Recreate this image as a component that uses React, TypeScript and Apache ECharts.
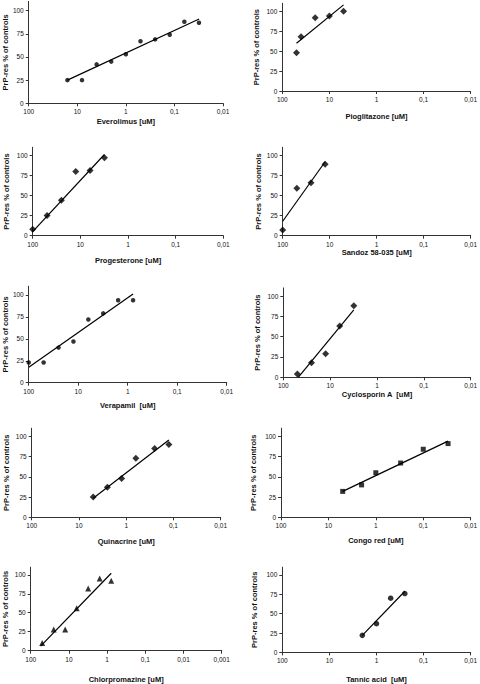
import React, { useEffect, useRef } from "react";
import * as echarts from "echarts";

// ---- data (concentration in uM, PrP-res % of controls) ----
const yTicks = [0, 25, 50, 75, 100];
const yAxisTitle = "PrP-res % of controls";

const everolimusConc = [16, 8, 4, 2, 1, 0.5, 0.25, 0.125, 0.0625, 0.03125];
const everolimusResp = [25, 25, 42, 45, 53, 67, 69, 74, 88, 87];
const everolimusFitX = [16, 0.031];
const everolimusFitY = [25, 91];

const pioglitazoneConc = [50, 40, 20, 10, 5];
const pioglitazoneResp = [48, 68, 92, 94, 100];
const pioglitazoneFitX = [50, 5];
const pioglitazoneFitY = [60, 108];

const progesteroneConc = [100, 50, 25, 12.5, 6.25, 3.125];
const progesteroneResp = [8, 25, 44, 80, 81, 97];
const progesteroneFitX = [100, 3.125];
const progesteroneFitY = [5, 101];

const sandozConc = [100, 50, 25, 12.5];
const sandozResp = [7, 59, 66, 89];
const sandozFitX = [100, 12.5];
const sandozFitY = [18, 92];

const verapamilConc = [100, 50, 25, 12.5, 6.25, 3.125, 1.5625, 0.78];
const verapamilResp = [23, 23, 40, 47, 72, 79, 94, 94];
const verapamilFitX = [100, 0.78];
const verapamilFitY = [17.5, 101];

const cyclosporinConc = [50, 25, 12.5, 6.25, 3.125];
const cyclosporinResp = [4, 18, 29, 63, 88];
const cyclosporinFitX = [48, 3.125];
const cyclosporinFitY = [0, 83];

const quinacrineConc = [5, 2.5, 1.25, 0.625, 0.25, 0.125];
const quinacrineResp = [25, 37, 48, 73, 85, 90];
const quinacrineFitX = [5, 0.125];
const quinacrineFitY = [23.5, 95.5];

const congoConc = [5, 2, 1, 0.3, 0.1, 0.03];
const congoResp = [32, 40, 55, 67, 84, 91];
const congoFitX = [5, 0.03];
const congoFitY = [32, 94];

const chlorpromazineConc = [50, 25, 12.5, 6.25, 3.125, 1.5625, 0.78];
const chlorpromazineResp = [10, 28, 28, 56, 82, 95, 92];
const chlorpromazineFitX = [55, 0.78];
const chlorpromazineFitY = [6, 102];

const tannicConc = [2, 1, 0.5, 0.25];
const tannicResp = [22, 37, 70, 76];
const tannicFitX = [2, 0.25];
const tannicFitY = [22, 79];

type Panel = {
  title: string;
  conc: number[];
  resp: number[];
  fitX: number[];
  fitY: number[];
  symbol: string;
  size: number;
  xMin: number;
  // layout (pixels)
  left: number;
  width: number;
  top: number;
  height: number;
  titleGap: number;
  nameGap: number;
};

const panels: Panel[] = [
  { title: "Everolimus [uM]", conc: everolimusConc, resp: everolimusResp, fitX: everolimusFitX, fitY: everolimusFitY, symbol: "circle", size: 4.5, xMin: 0.01, left: 26, width: 197, top: 1.4, height: 101.9, titleGap: 13.7, nameGap: 16 },
  { title: "Pioglitazone [uM]", conc: pioglitazoneConc, resp: pioglitazoneResp, fitX: pioglitazoneFitX, fitY: pioglitazoneFitY, symbol: "diamond", size: 7, xMin: 0.01, left: 282.3, width: 191, top: 3.3, height: 87.7, titleGap: 21, nameGap: 22 },
  { title: "Progesterone [uM]", conc: progesteroneConc, resp: progesteroneResp, fitX: progesteroneFitX, fitY: progesteroneFitY, symbol: "diamond", size: 7, xMin: 0.01, left: 32.7, width: 190.6, top: 147.3, height: 88.4, titleGap: 21, nameGap: 22.7 },
  { title: "Sandoz 58-035 [uM]", conc: sandozConc, resp: sandozResp, fitX: sandozFitX, fitY: sandozFitY, symbol: "diamond", size: 7, xMin: 0.01, left: 282.7, width: 190.6, top: 147.3, height: 88.4, titleGap: 13, nameGap: 18.7 },
  { title: "Verapamil  [uM]", conc: verapamilConc, resp: verapamilResp, fitX: verapamilFitX, fitY: verapamilFitY, symbol: "circle", size: 4.5, xMin: 0.01, left: 23.3, width: 203.4, top: 286.2, height: 96.5, titleGap: 19, nameGap: 16 },
  { title: "Cyclosporin A  [uM]", conc: cyclosporinConc, resp: cyclosporinResp, fitX: cyclosporinFitX, fitY: cyclosporinFitY, symbol: "diamond", size: 7, xMin: 0.01, left: 283.3, width: 191, top: 287.9, height: 89.4, titleGap: 11, nameGap: 22.3 },
  { title: "Quinacrine [uM]", conc: quinacrineConc, resp: quinacrineResp, fitX: quinacrineFitX, fitY: quinacrineFitY, symbol: "diamond", size: 7, xMin: 0.01, left: 31.7, width: 189, top: 428.2, height: 89.1, titleGap: 20.4, nameGap: 21.7 },
  { title: "Congo red [uM]", conc: congoConc, resp: congoResp, fitX: congoFitX, fitY: congoFitY, symbol: "rect", size: 5, xMin: 0.01, left: 281, width: 191.3, top: 428.2, height: 89.1, titleGap: 19.4, nameGap: 24 },
  { title: "Chlorpromazine [uM]", conc: chlorpromazineConc, resp: chlorpromazineResp, fitX: chlorpromazineFitX, fitY: chlorpromazineFitY, symbol: "triangle", size: 6, xMin: 0.001, left: 30.7, width: 191, top: 567.2, height: 85.5, titleGap: 24.3, nameGap: 21.7 },
  { title: "Tannic acid  [uM]", conc: tannicConc, resp: tannicResp, fitX: tannicFitX, fitY: tannicFitY, symbol: "circle", size: 5.5, xMin: 0.01, left: 282.3, width: 188.7, top: 567.2, height: 85.5, titleGap: 22.6, nameGap: 24.3 },
];

const fmtLog = (v: number): string => {
  if (v >= 1) return String(Math.round(v));
  const d = Math.round(-Math.log10(v));
  return v.toFixed(d).replace(".", ",");
};

const FONT = "'Liberation Sans', Arial, sans-serif";
const AXIS_COLOR = "#333";

export default function App() {
  const ref = useRef<HTMLDivElement>(null);
  useEffect(() => {
    if (!ref.current) return;
    const chart = echarts.init(ref.current, undefined, { renderer: "svg" });
    const grid = panels.map((p) => ({ left: p.left, top: p.top, width: p.width, height: p.height, containLabel: false }));
    const xAxis = panels.map((p, i) => ({
      type: "log",
      logBase: 10,
      gridIndex: i,
      min: p.xMin,
      max: 100,
      inverse: true,
      name: p.title,
      nameLocation: "middle",
      nameGap: p.titleGap,
      nameTextStyle: { fontFamily: FONT, fontSize: 7.5, fontWeight: "bold", color: "#111" },
      axisLine: { show: true, onZero: false, lineStyle: { color: AXIS_COLOR, width: 1 } },
      axisTick: { show: true, length: 3, inside: false, lineStyle: { color: AXIS_COLOR } },
      minorTick: { show: false },
      splitLine: { show: false },
      axisLabel: { fontFamily: FONT, fontSize: 6.5, color: "#111", margin: 5, formatter: fmtLog, showMinLabel: true, showMaxLabel: true },
    }));
    const yAxis = panels.map((p, i) => ({
      type: "value",
      gridIndex: i,
      min: 0,
      max: 110,
      name: yAxisTitle,
      nameLocation: "middle",
      nameGap: p.nameGap,
      nameTextStyle: { fontFamily: FONT, fontSize: 7.5, fontWeight: "bold", color: "#111" },
      axisLine: { show: true, lineStyle: { color: AXIS_COLOR, width: 1 } },
      axisTick: { show: true, length: 3, inside: false, customValues: yTicks, lineStyle: { color: AXIS_COLOR } },
      splitLine: { show: false },
      axisLabel: { fontFamily: FONT, fontSize: 6.5, color: "#111", margin: 5, customValues: yTicks },
    }));
    const series: any[] = [];
    panels.forEach((p, i) => {
      series.push({
        type: "scatter",
        xAxisIndex: i,
        yAxisIndex: i,
        symbol: p.symbol,
        symbolSize: p.size,
        itemStyle: { color: "#000" },
        data: p.conc.map((c, k) => [c, p.resp[k]]),
      });
      series.push({
        type: "line",
        xAxisIndex: i,
        yAxisIndex: i,
        showSymbol: false,
        symbol: "none",
        lineStyle: { color: "#000", width: 1.2 },
        data: p.fitX.map((c, k) => [c, p.fitY[k]]),
      });
    });
    chart.setOption({
      animation: false,
      backgroundColor: "#fff",
      textStyle: { fontFamily: FONT },
      grid,
      xAxis,
      yAxis,
      series,
    });
    return () => chart.dispose();
  }, []);
  return (
    <div
      ref={ref}
      style={{ position: "absolute", left: 0, top: 0, width: 480, height: 684, background: "#fff" }}
    />
  );
}
